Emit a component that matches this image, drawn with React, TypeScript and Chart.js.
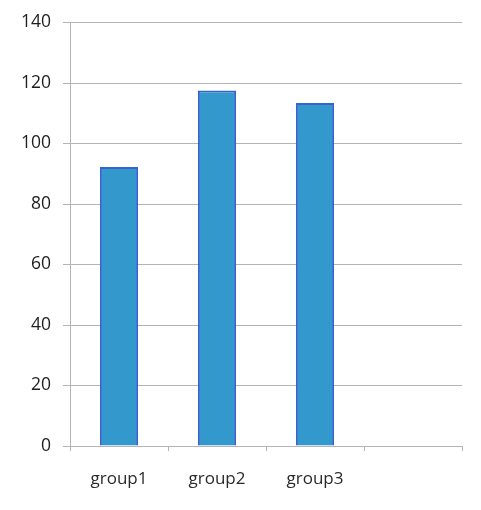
import React, { useEffect, useRef } from "react";
import { Chart, registerables } from "chart.js";

Chart.register(...registerables);

const categories = ["group1", "group2", "group3", ""];
const values = [92.2, 117.5, 113.4, null];
const yTicks = [0, 20, 40, 60, 80, 100, 120, 140];

export default function App() {
  const ref = useRef<HTMLCanvasElement | null>(null);
  useEffect(() => {
    if (!ref.current) return;
    const chart = new Chart(ref.current, {
      type: "bar",
      data: {
        labels: categories,
        datasets: [
          {
            data: values as any,
            backgroundColor: "#3399cc",
            borderColor: "#3464cf",
            borderWidth: 2,
            categoryPercentage: 1,
            barPercentage: 0.39,
          },
        ],
      },
      options: {
        animation: false,
        responsive: false,
        maintainAspectRatio: false,
        layout: { padding: { left: 0, right: 19, top: 17, bottom: 0 } },
        plugins: { legend: { display: false }, tooltip: { enabled: false } },
        scales: {
          x: {
            offset: true,
            afterFit: (s: any) => {
              s.height = 64;
            },
            grid: {
              display: true,
              drawOnChartArea: false,
              offset: true,
              tickLength: 5,
              color: "#b4b4b4",
              lineWidth: 1,
            },
            border: { color: "#b4b4b4", width: 1 },
            ticks: {
              color: "#2a2a2a",
              font: { family: "Open Sans", size: 17 },
              padding: 18,
              maxRotation: 0,
            },
          },
          y: {
            min: 0,
            max: 140,
            afterFit: (s: any) => {
              s.width = 70;
            },
            afterBuildTicks: (s: any) => {
              s.ticks = yTicks.map((v) => ({ value: v }));
            },
            grid: {
              color: "#b4b4b4",
              lineWidth: 1,
              tickLength: 7,
            },
            border: { color: "#b4b4b4", width: 1 },
            ticks: {
              color: "#1e1e1e",
              font: { family: "Open Sans", size: 17.5 },
              padding: 12,
            },
          },
        },
      },
    });
    return () => chart.destroy();
  }, []);
  return (
    <div style={{ position: "fixed", left: 0, top: 0, width: 481, height: 510, background: "#fff" }}>
      <canvas ref={ref} width={481} height={510} style={{ width: 481, height: 510 }} />
    </div>
  );
}
